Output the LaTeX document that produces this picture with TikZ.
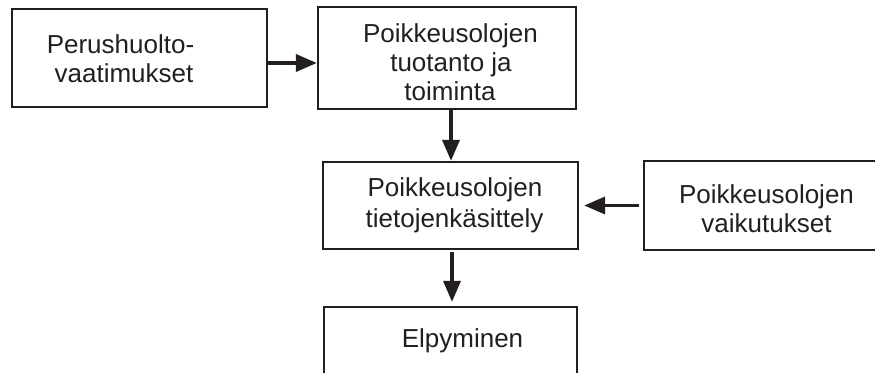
\documentclass[tikz,border=0pt]{standalone}
\usepackage{fontspec}
\setmainfont{Liberation Sans}
\usetikzlibrary{arrows.meta}
\definecolor{ink}{HTML}{231F20}
\begin{document}
\begin{tikzpicture}[x=1pt,y=-1pt,
  box/.style={draw=ink,line width=2.3pt,rectangle,inner sep=0pt},
  lbl/.style={anchor=base,inner sep=0pt,text=ink,font=\fontsize{26}{29}\selectfont},
  arr/.style={draw=ink,line width=3.6pt,-{Triangle[length=21pt,width=17pt]}}]
\useasboundingbox (0,0) rectangle (875,372);
\clip (0,0) rectangle (875,372);
\fill[white] (0,0) rectangle (875,372);

% boxes
\node[box,minimum width=255pt,minimum height=98pt]  (A) at (139.5,58) {};
\node[box,minimum width=258pt,minimum height=102pt] (B) at (447,58) {};
\node[box,minimum width=255pt,minimum height=87pt]  (C) at (450.5,205.5) {};
\node[box,minimum width=261pt,minimum height=89pt]  (D) at (774.5,205.5) {};
\node[box,minimum width=253pt,minimum height=93pt]  (E) at (450.5,353.5) {};

% texts
\node[lbl] (a1) at (120.5,53) {Perushuolto-};
\node[lbl] (a2) at (124,82) {vaatimukset};
\node[lbl] (b1) at (450.5,42) {Poikkeusolojen};
\node[lbl] (b2) at (451,71) {tuotanto ja};
\node[lbl] (b3) at (450,100) {toiminta};
\node[lbl] (c1) at (455,196) {Poikkeusolojen};
\node[lbl] (c2) at (454.5,227) {tietojenkäsittely};
\node[lbl] (d1) at (766.5,203) {Poikkeusolojen};
\node[lbl] (d2) at (766.5,232) {vaikutukset};
\node[lbl] (e1) at (462.5,347) {Elpyminen};

% connectors
\draw[arr] ([yshift=-5pt]A.east) -- ([yshift=-5pt]B.west);
\draw[arr] ([xshift=4pt]B.south) -- ([xshift=4pt]B.south |- C.north);
\draw[arr,shorten <=2pt,shorten >=4pt] ([xshift=1.5pt]C.south) -- ([xshift=1.5pt]C.south |- E.north);
\draw[arr,shorten <=4pt,shorten >=5pt] (D.west) -- (C.east);
\end{tikzpicture}
\end{document}
